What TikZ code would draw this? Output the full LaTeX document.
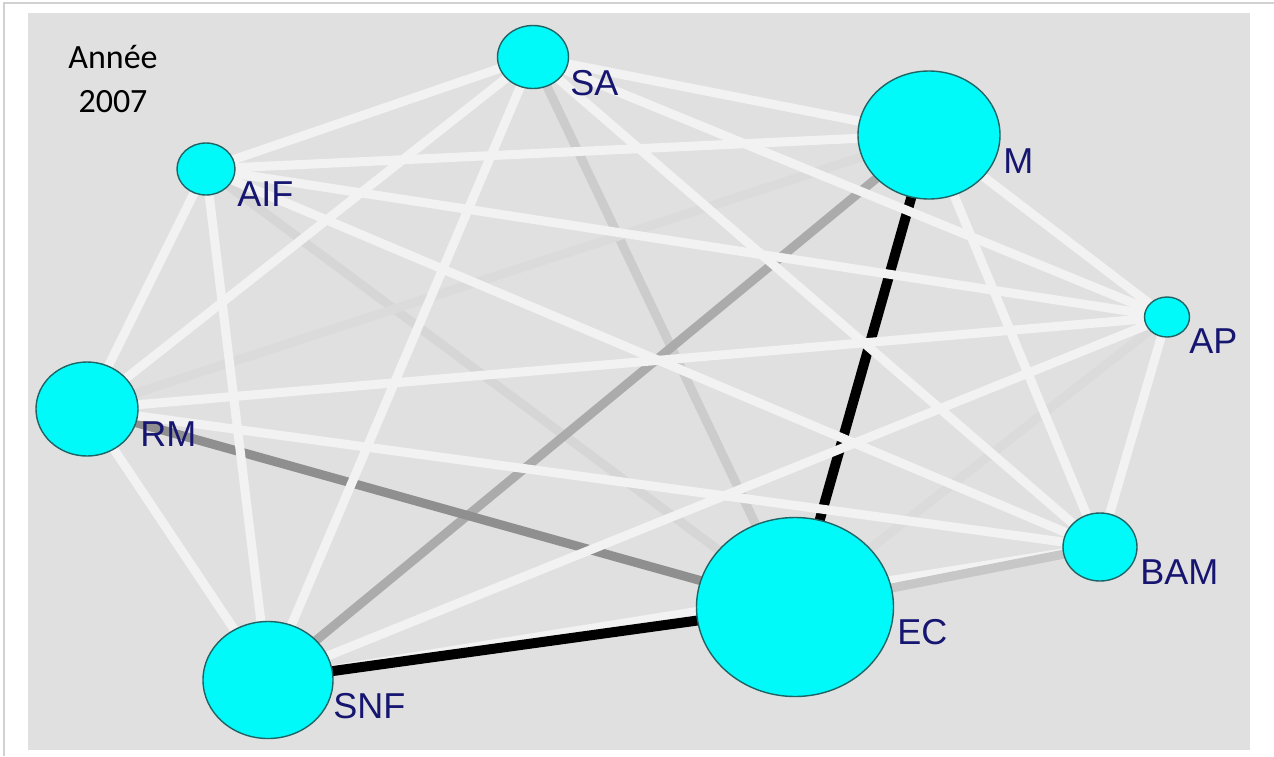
\documentclass[tikz,border=0pt]{standalone}
\usepackage{fontspec}
\newfontfamily\lblfont{Liberation Sans}
\newfontfamily\yearfont{Carlito}
\usetikzlibrary{shapes.geometric, positioning}
\definecolor{panel}{RGB}{224,224,224}
\definecolor{nodefill}{RGB}{0,250,250}
\definecolor{nodeline}{RGB}{30,100,100}
\definecolor{navy}{RGB}{22,22,112}
\pgfdeclarelayer{back}
\pgfsetlayers{back,main}

\begin{document}
\begin{tikzpicture}[x=0.5pt, y=-0.5pt,
        actor/.style={ellipse, draw=nodeline, line width=0.7pt, fill=nodefill, inner sep=0pt},
        tag/.style={anchor=west, inner sep=0pt, text=navy, font=\lblfont\fontsize{18}{20}\selectfont},
        link/.style={line width=4.5pt, draw=#1}]
            \useasboundingbox (0,0) rectangle (1274,756);
            \draw[black!18, line width=0.6pt] (4,756) -- (4,3) -- (1274,3);
            \node[font=\yearfont\fontsize{17}{22}\selectfont, align=center] (year) at (113,79) {Année\\2007};
            \node[actor, minimum width=35.5pt, minimum height=31.5pt] (sa) at (533,57) {};
            \node[actor, minimum width=71pt, minimum height=64pt] (m) at (929,135) {};
            \node[actor, minimum width=29pt, minimum height=26pt] (aif) at (206,169) {};
            \node[actor, minimum width=22.5pt, minimum height=20pt] (ap) at (1167,317) {};
            \node[actor, minimum width=51pt, minimum height=47pt] (rm) at (87,409) {};
            \node[actor, minimum width=37pt, minimum height=34pt] (bam) at (1100,547) {};
            \node[actor, minimum width=98.5pt, minimum height=89.5pt] (ec) at (795,607) {};
            \node[actor, minimum width=65pt, minimum height=58.5pt] (snf) at (268,680) {};
            \node[tag] (sa-l) at (570,83) {SA};
            \node[tag] (m-l) at (1003,161) {M};
            \node[tag] (aif-l) at (237,194) {AIF};
            \node[tag] (ap-l) at (1189,341) {AP};
            \node[tag] (rm-l) at (140,434) {RM};
            \node[tag] (bam-l) at (1140,572) {BAM};
            \node[tag] (ec-l) at (897,632) {EC};
            \node[tag] (snf-l) at (333,706) {SNF};
            \begin{pgfonlayer}{back}
                \fill[panel] (28,13) rectangle (1250,750);
                \foreach \a/\b/\c in {sa/ec/20, aif/ec/16, rm/m/14, ap/ec/14, bam/snf/5}
                    \draw[link=black!\c] (\a.center) -- (\b.center);
                \draw[link=black!22] (ec.center) -- (bam.center);
                \draw[link=black!33] (snf.center) -- (m.center);
                \draw[link=black!44] (rm.center) -- (ec.center);
                \draw[link=black, line width=5pt] (m.center) -- (ec.center) -- (snf.center);
                \foreach \a/\b in {sa/m, sa/aif, sa/ap, sa/rm, sa/bam, sa/snf, aif/m, aif/ap, aif/rm,
                        aif/bam, aif/snf, m/ap, m/bam, ap/rm, ap/bam, ap/snf, rm/bam, rm/snf}
                    \draw[link=black!5] (\a.center) -- (\b.center);
            \end{pgfonlayer}
        \end{tikzpicture}
\end{document}
